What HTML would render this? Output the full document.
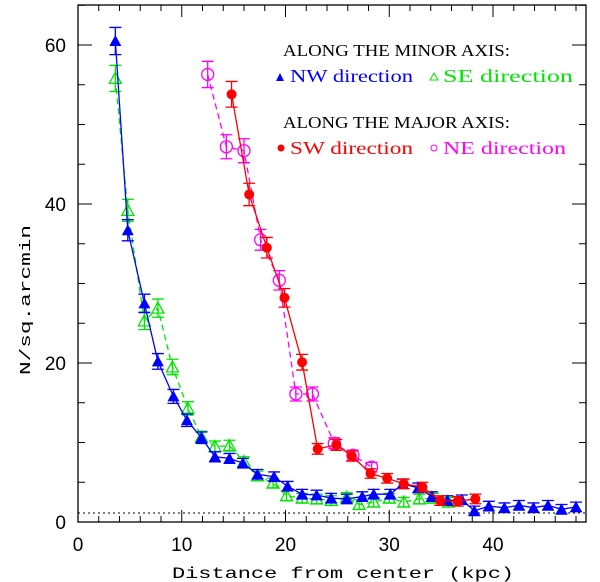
<!DOCTYPE html>
<html><head><meta charset="utf-8"><style>
body{margin:0;background:#fff}
svg{display:block;font-family:"Liberation Mono",monospace}
</style></head><body>
<svg id="c" width="600" height="582" viewBox="0 0 600 582">
<rect x="78" y="5" width="508" height="517" fill="none" stroke="#000" stroke-width="1.3"/>
<line x1="78" x2="586" y1="513" y2="513" stroke="#000" stroke-dasharray="2,3"/>
<g id="ticks"></g><g id="series"></g>
<text x="30" y="300" transform="rotate(-90 30 300)" font-size="15" text-anchor="middle" textLength="150" lengthAdjust="spacingAndGlyphs">N/sq.arcmin</text>
<text x="343" y="578" font-size="16" text-anchor="middle" textLength="342" lengthAdjust="spacingAndGlyphs">Distance from center (kpc)</text>
<g font-size="17" font-family="Liberation Serif, serif">
<text x="283" y="56" textLength="227" lengthAdjust="spacingAndGlyphs">ALONG THE MINOR AXIS:</text>
<polygon points="276,81 280,73 284,81" fill="#0000ff"/>
<text x="290" y="82" fill="#0000ff" font-size="18" textLength="123" lengthAdjust="spacingAndGlyphs">NW direction</text>
<polygon points="430,80 434,73 438,80" fill="none" stroke="#00e600"/>
<text x="443" y="82" fill="#00e600" font-size="18" textLength="130" lengthAdjust="spacingAndGlyphs">SE direction</text>
<text x="283" y="128" textLength="227" lengthAdjust="spacingAndGlyphs">ALONG THE MAJOR AXIS:</text>
<circle cx="281" cy="148" r="3.5" fill="#ff0000"/>
<text x="290" y="154" fill="#ff0000" font-size="18" textLength="123" lengthAdjust="spacingAndGlyphs">SW direction</text>
<circle cx="434" cy="148" r="3" fill="none" stroke="#ff00ff"/>
<text x="443" y="154" fill="#ff00ff" font-size="18" textLength="123" lengthAdjust="spacingAndGlyphs">NE direction</text>
</g>
</svg>
<script>
const xTicks=[0,10,20,30,40];
const yTicks=[0,20,40,60];
const nwX=[3.6,4.8,6.4,7.7,9.2,10.5,11.9,13.2,14.6,15.9,17.3,18.9,20.2,21.6,23.0,24.4,25.9,27.4,28.5,30.1,31.3,32.8,34.1,35.6,37.0,38.2,39.6,41.1,42.5,43.9,45.3,46.6,48.0];
const nwY=[60.5,36.7,27.5,20.2,15.8,12.8,10.6,8.2,8.0,7.4,6.0,5.7,4.5,3.5,3.4,3.0,2.9,3.2,3.5,3.5,4.8,4.3,3.2,2.7,2.8,1.4,2.0,1.8,2.1,1.8,2.1,1.6,1.9];
const seX=[3.6,4.8,6.4,7.7,9.1,10.6,11.9,13.2,14.6,16.0,17.3,18.8,20.1,21.6,23.0,24.4,25.9,27.1,28.5,30.0,31.4,32.9,34.2,35.7];
const seY=[55.8,39.2,25.3,26.9,19.5,14.3,10.7,9.5,9.6,7.6,5.8,4.9,3.3,3.0,2.9,2.7,3.1,2.2,2.5,3.0,2.5,2.9,3.0,2.5];
const swX=[14.8,16.5,18.2,19.9,21.6,23.1,24.9,26.4,28.2,29.8,31.4,33.2,34.9,36.6,38.3];
const swY=[53.8,41.2,34.5,28.2,20.1,9.2,9.7,8.3,6.1,5.5,4.8,4.4,2.7,2.6,2.9];
const neX=[12.5,14.3,16.0,17.6,19.4,21.0,22.6,24.7,26.5,28.3];
const neY=[56.3,47.2,46.7,35.5,30.4,16.1,16.1,9.9,8.4,6.9];
const sx=v=>78+v*10.375, sy=v=>522-v*7.95;
const NS="http://www.w3.org/2000/svg";
function mk(tag,attrs,parent){const e=document.createElementNS(NS,tag);for(const k in attrs)e.setAttribute(k,attrs[k]);parent.appendChild(e);return e;}
const tg=document.getElementById('ticks');
for(let v=0;v<=48;v+=2){const L=v%10===0?12:6;
 let t=mk('line',{x1:sx(v),x2:sx(v),y1:522,y2:522-L,stroke:'#000'},tg);
 
 
 let t2=mk('line',{x1:sx(v),x2:sx(v),y1:5,y2:5+L,stroke:'#000'},tg);
 
 }
for(let v=0;v<=65;v+=5){const L=v%20===0?14:7;
 let t=mk('line',{x1:78,x2:78+L,y1:sy(v),y2:sy(v),stroke:'#000'},tg);
 
 
 let t2=mk('line',{x1:586,x2:586-L,y1:sy(v),y2:sy(v),stroke:'#000'},tg);
 
 }
xTicks.forEach(v=>{const t=mk('text',{x:sx(v),y:551,'font-size':19,'text-anchor':'middle','font-family':'Liberation Sans, sans-serif'},tg);t.textContent=v;
 
 });
yTicks.forEach(v=>{const t=mk('text',{x:66,y:sy(v)+7,'font-size':19,'text-anchor':'end','font-family':'Liberation Sans, sans-serif'},tg);t.textContent=v;
 
 });
const sg=document.getElementById('series');
function err(y){return Math.max(0.6,Math.sqrt(y)*0.22);}
function series(xs,ys,color,dash,marker,name){
 const g=mk('g',{},sg);
 
 
 const p=mk('polyline',{points:xs.map((x,i)=>sx(x)+','+sy(ys[i])).join(' '),fill:'none',stroke:color,'stroke-width':1.3,'stroke-dasharray':dash},g);
 
 
 xs.forEach((x,i)=>{const cx=sx(x),cy=sy(ys[i]),e=err(ys[i]),y1=sy(ys[i]+e),y2=sy(ys[i]-e);
  const b=mk('path',{d:`M${cx},${y1}V${y2}M${cx-6},${y1}H${cx+6}M${cx-6},${y2}H${cx+6}`,stroke:color,'stroke-width':1.3,fill:'none'},g);
  
  
  let m;
  if(marker==='tri')m=mk('polygon',{points:`${cx-6},${cy+5} ${cx},${cy-6} ${cx+6},${cy+5}`,fill:color},g);
  else if(marker==='otri')m=mk('polygon',{points:`${cx-6},${cy+5} ${cx},${cy-6} ${cx+6},${cy+5}`,fill:'none',stroke:color,'stroke-width':1.3},g);
  else if(marker==='dot')m=mk('circle',{cx:cx,cy:cy,r:5,fill:color},g);
  else m=mk('circle',{cx:cx,cy:cy,r:6,fill:'none',stroke:color,'stroke-width':1.3},g);
  
  });
}
series(seX,seY,'#00e600','6,4','otri','se');
series(nwX,nwY,'#0000ff','none','tri','nw');
series(neX,neY,'#ff00ff','6,4','ocirc','ne');
series(swX,swY,'#ff0000','none','dot','sw');
</script>
</body></html>
